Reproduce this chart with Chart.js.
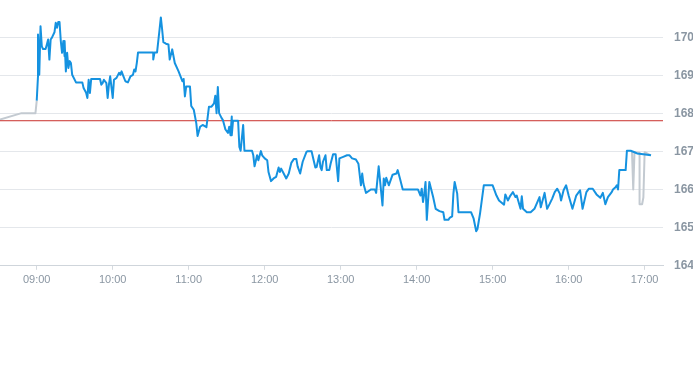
<!DOCTYPE html>
<html>
<head>
<meta charset="utf-8">
<script src="https://cdn.jsdelivr.net/npm/chart.js@4/dist/chart.umd.min.js"></script>
<style>
  html, body { margin: 0; padding: 0; background: #fff; }
  canvas { display: block; }
</style>
</head>
<body>
<canvas id="myChart" width="693" height="365"></canvas>
<script>
// previous close (red reference line)
const prevClose = 167.82;

// pre-market (grey)
const preTimes = ['08:31', '08:48', '08:59', '09:00'];
const preValues = [167.85, 168.02, 168.02, 168.35];

// main session (blue)
const sessionTimes = [
  '09:00','09:01','09:01','09:02','09:03','09:04','09:05','09:07','09:08','09:09',
  '09:10','09:11','09:12','09:14','09:15','09:16','09:17','09:18','09:19','09:20',
  '09:21','09:22','09:22','09:23','09:24','09:25','09:26','09:27','09:28','09:31',
  '09:36','09:37','09:39','09:40','09:41','09:42','09:43','09:50','09:51','09:52',
  '09:53','09:55','09:56','09:57','09:58','10:00','10:01','10:03','10:05','10:06',
  '10:07','10:08','10:10','10:12','10:14','10:16','10:17','10:18','10:19','10:20',
  '10:32','10:32','10:33','10:35','10:37','10:38','10:39','10:40','10:42','10:44',
  '10:45','10:47','10:48','10:49','10:52','10:54','10:55','10:56','10:57','10:58',
  '11:01','11:02','11:04','11:06','11:07','11:09','11:11','11:14','11:16','11:18',
  '11:20','11:21','11:22','11:23','11:24','11:26','11:27','11:29','11:31','11:32',
  '11:33','11:34','11:34','11:35','11:39','11:40','11:41','11:43','11:44','11:50',
  '11:51','11:52','11:54','11:55','11:57','11:58','12:00','12:02','12:03','12:05',
  '12:07','12:09','12:11','12:12','12:13','12:15','12:17','12:19','12:21','12:23',
  '12:25','12:26','12:28','12:30','12:33','12:34','12:37','12:38','12:40','12:41',
  '12:43','12:44','12:45','12:46','12:48','12:49','12:51','12:52','12:54','12:56',
  '12:58','12:59','13:02','13:05','13:07','13:09','13:12','13:14','13:16','13:17',
  '13:18','13:20','13:23','13:24','13:27','13:28','13:30','13:33','13:34','13:35',
  '13:36','13:38','13:41','13:44','13:45','13:47','13:49','14:01','14:03','14:04',
  '14:05','14:06','14:07','14:08','14:10','14:13','14:15','14:18','14:21','14:22',
  '14:25','14:26','14:28','14:29','14:30','14:32','14:33','14:43','14:45','14:47',
  '14:48','14:50','14:53','15:00','15:03','15:05','15:09','15:10','15:12','15:14',
  '15:16','15:18','15:19','15:22','15:23','15:24','15:27','15:30','15:33','15:37',
  '15:38','15:41','15:43','15:45','15:47','15:49','15:51','15:53','15:54','15:56',
  '15:58','16:00','16:03','16:06','16:09','16:11','16:14','16:16','16:19','16:22',
  '16:25','16:27','16:29','16:31','16:34','16:35','16:37','16:38','16:39','16:40',
  '16:45','16:46','16:49','16:52','16:54','16:59','17:05'
];
const sessionValues = [
  168.35,168.99,170.09,169.03,170.31,169.78,169.71,169.71,169.83,169.96,
  169.43,169.96,170.01,170.15,170.40,170.27,170.42,170.42,169.92,169.61,
  169.92,169.52,169.92,169.12,169.61,169.21,169.39,169.34,169.03,168.83,
  168.83,168.68,168.56,168.42,168.90,168.55,168.92,168.92,168.77,168.81,
  168.90,168.81,168.42,168.77,168.99,168.42,168.90,168.95,169.08,169.03,
  169.12,169.03,168.86,168.83,168.99,169.03,169.17,169.12,169.34,169.62,
  169.62,169.43,169.62,169.62,170.23,170.54,170.23,169.89,169.85,169.83,
  169.43,169.70,169.52,169.34,169.12,168.95,168.86,168.92,168.46,168.72,
  168.72,168.21,168.11,167.75,167.42,167.66,167.71,167.65,168.19,168.19,
  168.28,168.48,168.02,168.71,168.02,167.89,167.84,167.59,167.50,167.66,
  167.44,167.93,167.44,167.82,167.82,167.13,167.03,167.71,167.03,167.03,
  166.91,166.62,166.91,166.78,167.02,166.91,166.83,166.78,166.47,166.23,
  166.30,166.34,166.59,166.47,166.56,166.43,166.30,166.43,166.71,166.81,
  166.81,166.62,166.43,166.74,167.00,167.02,167.02,166.87,166.59,166.60,
  166.91,166.60,166.52,166.74,166.91,166.52,166.52,166.68,166.94,166.94,
  166.23,166.83,166.87,166.91,166.91,166.83,166.80,166.69,166.12,166.43,
  166.16,165.92,165.99,166.01,166.01,165.92,166.62,165.59,166.30,166.12,
  166.32,166.12,166.40,166.43,166.52,166.27,166.01,166.01,165.85,166.03,
  165.68,165.90,166.21,165.21,166.21,165.81,165.50,165.44,165.41,165.21,
  165.21,165.26,165.30,165.90,166.21,165.90,165.41,165.41,165.24,164.91,
  164.97,165.37,166.12,166.12,165.85,165.72,165.61,165.88,165.72,165.85,
  165.94,165.81,165.85,165.50,165.83,165.50,165.41,165.41,165.50,165.81,
  165.54,165.92,165.50,165.63,165.77,165.94,166.03,165.90,165.72,165.99,
  166.12,165.85,165.50,165.85,165.99,165.50,165.94,166.03,166.03,165.88,
  165.79,165.92,165.62,165.81,165.94,166.01,166.07,166.12,166.01,166.52,
  166.52,167.03,167.03,166.99,166.96,166.94,166.91
];

// after-hours (grey)
const postTimes = ['16:50', '16:51', '16:52', '16:56', '16:56', '16:58', '16:59', '17:00', '17:05'];
const postValues = [167.02, 166.01, 166.99, 166.98, 165.62, 165.62, 165.80, 166.99, 166.91];

const hourTicks = ['09:00', '10:00', '11:00', '12:00', '13:00', '14:00', '15:00', '16:00', '17:00'];
const yTicks = [164, 165, 166, 167, 168, 169, 170];

const toMin = s => { const p = s.split(':'); return +p[0] * 60 + +p[1]; };
const fmt = m => String(Math.floor(m / 60)).padStart(2, '0') + ':' + String(Math.round(m % 60)).padStart(2, '0');
const pts = (times, vals) => times.map((t, i) => ({ x: toMin(t), y: vals[i] }));

const xMin = 511, xMax = 1034.5;

const labelFont = { family: "'Liberation Sans', Arial, sans-serif", size: 11 };

const config = {
    type: 'line',
    data: {
        datasets: [
            {
                data: pts(postTimes, postValues),
                borderColor: '#c3cad1', borderWidth: 2, pointRadius: 0, order: 3
            },
            {
                data: pts(preTimes, preValues),
                borderColor: '#c3cad1', borderWidth: 2, pointRadius: 0, order: 2
            },
            {
                data: [{ x: xMin, y: prevClose }, { x: xMax, y: prevClose }],
                borderColor: '#c9302c', borderWidth: 1, pointRadius: 0, order: 1
            },
            {
                data: pts(sessionTimes, sessionValues),
                borderColor: '#1592e0', borderWidth: 2, pointRadius: 0, order: 0
            }
        ]
    },
    options: {
        responsive: false,
        animation: false,
        events: [],
        layout: { autoPadding: false, padding: { left: 0, right: 0, top: 0, bottom: 74 } },
        plugins: { legend: { display: false }, tooltip: { enabled: false } },
        elements: { line: { tension: 0, borderJoinStyle: 'round' } },
        scales: {
            x: {
                type: 'linear',
                min: xMin,
                max: xMax,
                afterBuildTicks: axis => { axis.ticks = hourTicks.map(t => ({ value: toMin(t) })); },
                afterFit: axis => { axis.paddingLeft = 0; axis.paddingRight = 0; },
                ticks: {
                    callback: v => fmt(v),
                    color: '#8a96a2',
                    font: labelFont,
                    maxRotation: 0,
                    autoSkip: false,
                    padding: 4
                },
                grid: { drawOnChartArea: false, drawTicks: true, tickLength: 4, color: '#d5dadf' },
                border: { color: '#cfd5db' }
            },
            y: {
                position: 'right',
                min: 164,
                max: 171,
                afterBuildTicks: axis => { axis.ticks = yTicks.map(v => ({ value: v })); },
                afterFit: axis => { axis.width = 30; axis.paddingTop = 0; axis.paddingBottom = 0; },
                ticks: {
                    color: '#8a96a2',
                    font: Object.assign({}, labelFont, { size: 12, weight: 'bold' }),
                    autoSkip: false,
                    padding: 11
                },
                grid: { color: '#e4e7eb', drawTicks: false },
                border: { display: false }
            }
        }
    }
};

const myChart = new Chart(document.getElementById('myChart'), config);
</script>
</body>
</html>
